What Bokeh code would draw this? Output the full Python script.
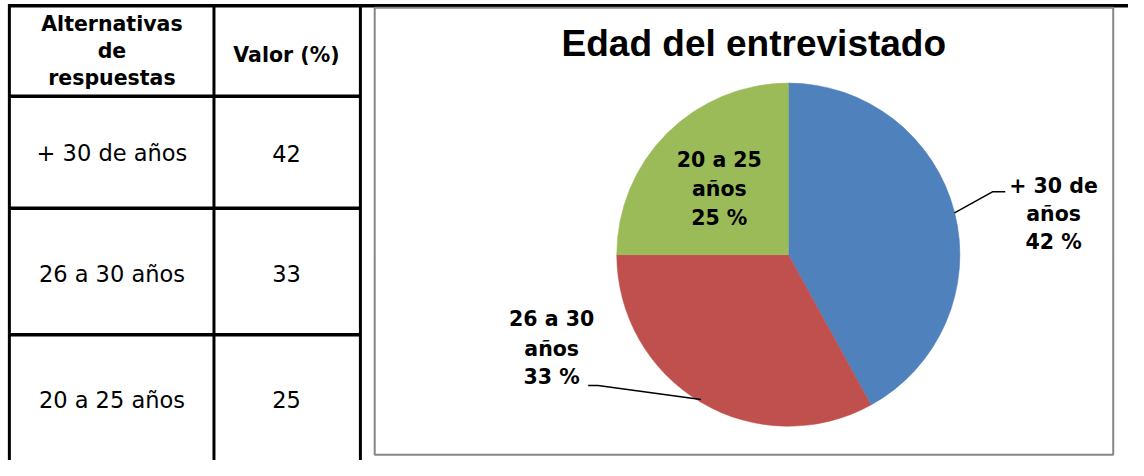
import math
from bokeh.plotting import figure
from bokeh.models import Range1d
from bokeh.core.properties import value
from bokeh.embed import file_html
from bokeh.resources import INLINE

# ---- data ----
title = "Edad del entrevistado"
header_alt = ["Alternativas", "de", "respuestas"]
header_val = "Valor (%)"
categories = ["+ 30 de años", "26 a 30 años", "20 a 25 años"]
values = [42, 33, 25]
colors = ["#4F81BD", "#C0504D", "#9BBB59"]

# reference canvas is 1144x476; figure fits inside the 8px page margin
RW, RH = 1144, 476
p = figure(width=1128, height=460, x_range=Range1d(0, RW), y_range=Range1d(0, RH),
           output_backend="svg", toolbar_location=None, min_border=0,
           background_fill_color="white", border_fill_color="white")
p.axis.visible = False
p.grid.visible = False
p.outline_line_color = None


def Y(sy):
    return RH - sy


# ---- table lines ----
hx0 = [8, 8, 8, 8]
hx1 = [RW, 365, 365, 365]
hy = [5.5, 99, 215, 346]
p.segment(x0=hx0, y0=[Y(v) for v in hy], x1=hx1, y1=[Y(v) for v in hy],
          line_color="black", line_width=3.5)
vx = [9, 216.5, 365]
p.segment(x0=vx, y0=[Y(4)] * 3, x1=vx, y1=[Y(RH)] * 3, line_color="black", line_width=3)

# chart frame
p.quad(left=[379.5], right=[1128.5], top=[Y(7.5)], bottom=[Y(470)],
       fill_color=None, line_color="#868686", line_width=2)

# ---- table text ----
bold = dict(text_font=value("DejaVu Sans"), text_font_style="bold",
            text_align="center", text_baseline="middle", text_color="black")
reg = dict(text_font=value("DejaVu Sans"), text_font_style="normal",
           text_align="center", text_baseline="middle", text_color="black")
p.text(x=[113] * 3, y=[Y(24), Y(52), Y(80)], text=header_alt, text_font_size="20.5px", **bold)
p.text(x=[290], y=[Y(56)], text=[header_val], text_font_size="20.5px", **bold)
row_y = [158, 283, 413]
p.text(x=[113] * 3, y=[Y(v) for v in row_y], text=categories, text_font_size="22.5px", **reg)
p.text(x=[290] * 3, y=[Y(v) for v in row_y], text=[str(v) for v in values],
       text_font_size="22.5px", **reg)

# ---- title ----
p.text(x=[764], y=[Y(44)], text=[title], text_font=value("Liberation Sans"),
       text_font_style="bold", text_font_size="37px", text_align="center",
       text_baseline="middle", text_color="black")

# ---- pie ----
cx, cy, r = 799, Y(263), 174
a0 = math.pi / 2
starts, ends, mids = [], [], []
for v in values:
    a1 = a0 - 2 * math.pi * v / 100.0
    starts.append(a1)
    ends.append(a0)
    mids.append((a0 + a1) / 2)
    a0 = a1
p.wedge(x=[cx] * 3, y=[cy] * 3, radius=r, start_angle=starts, end_angle=ends,
        direction="anticlock", fill_color=colors, line_color=colors, line_width=0.5)

# leader lines (blue and red slices)
ex0 = cx + r * math.cos(mids[0]); ey0 = cy + r * math.sin(mids[0])
p.line(x=[ex0, 1006, 1019], y=[ey0, Y(198), Y(198)], line_color="black", line_width=1.5)
ex1 = cx + r * math.cos(mids[1]); ey1 = cy + r * math.sin(mids[1])
p.line(x=[ex1, 606, 596], y=[ey1, Y(398.5), Y(398.5)], line_color="black", line_width=1.5)

# pie labels
label_pos = [(1068, [192, 221, 250]), (559, [330, 361, 390]), (729, [165, 195, 225])]
for cat, v, (lx, lys) in zip(categories, values, label_pos):
    first, last = cat.rsplit(" ", 1)
    lines = [first, last, f"{v} %"]
    p.text(x=[lx] * 3, y=[Y(t) for t in lys], text=lines, text_font_size="20.5px", **bold)

open("out.html", "w").write(file_html(p, INLINE))
